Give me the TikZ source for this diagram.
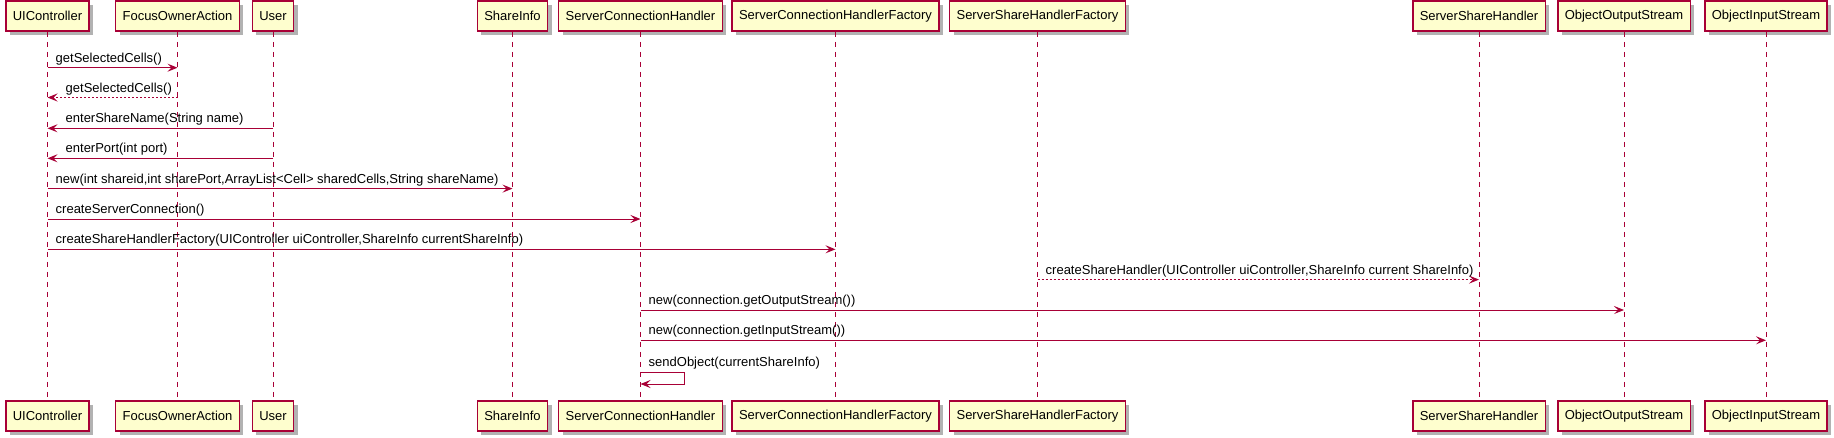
\documentclass[tikz,border=0pt]{standalone}
\usepackage{fontspec}
\setmainfont{Liberation Sans}
\usetikzlibrary{arrows.meta,shadows}
\definecolor{umlred}{HTML}{A80036}
\definecolor{umlfill}{HTML}{FEFECE}
\begin{document}
\begin{tikzpicture}[x=1pt,y=-1pt,
  part/.style={draw=umlred, line width=1.5pt, fill=umlfill, minimum height=30pt,
    inner xsep=7pt, inner ysep=0pt, font=\fontsize{13}{15}\selectfont,
    drop shadow={shadow xshift=4pt, shadow yshift=-4pt, fill=black, opacity=0.3}},
  lifeline/.style={draw=umlred, line width=1pt, dash pattern=on 5pt off 5pt},
  msg/.style={draw=umlred, line width=1pt, -{Stealth[length=10pt,width=8pt,inset=4pt]}},
  ret/.style={msg, dash pattern=on 2pt off 2pt},
  lbl/.style={anchor=base west, inner sep=0pt, font=\fontsize{13}{15}\selectfont}
]
\useasboundingbox (0,0) rectangle (1834,437);

% participants (top)
\node[part] (uic) at (47.5,16) {UIController};
\node[part] (foa) at (177.5,16) {FocusOwnerAction};
\node[part] (usr) at (273,16) {User};
\node[part] (shi) at (512.5,16) {ShareInfo};
\node[part] (sch) at (640.5,16) {ServerConnectionHandler};
\node[part] (schf) at (835.5,16) {ServerConnectionHandlerFactory};
\node[part] (sshf) at (1037.5,16) {ServerShareHandlerFactory};
\node[part] (ssh) at (1479,16) {ServerShareHandler};
\node[part] (oos) at (1624,16) {ObjectOutputStream};
\node[part] (ois) at (1766,16) {ObjectInputStream};

% participants (bottom)
\node[part] (uicB) at (47.5,416) {UIController};
\node[part] (foaB) at (177.5,416) {FocusOwnerAction};
\node[part] (usrB) at (273,416) {User};
\node[part] (shiB) at (512.5,416) {ShareInfo};
\node[part] (schB) at (640.5,416) {ServerConnectionHandler};
\node[part] (schfB) at (835.5,416) {ServerConnectionHandlerFactory};
\node[part] (sshfB) at (1037.5,416) {ServerShareHandlerFactory};
\node[part] (sshB) at (1479,416) {ServerShareHandler};
\node[part] (oosB) at (1624,416) {ObjectOutputStream};
\node[part] (oisB) at (1766,416) {ObjectInputStream};

% lifelines
\foreach \p in {uic,foa,usr,shi,sch,schf,sshf,ssh,oos,ois}
  \draw[lifeline] (\p.south) -- (\p B.north);

% messages
\draw[msg] (uic |- 0,67.7) -- (foa |- 0,67.7);
\node[lbl] at ([xshift=8pt]uic |- 0,62.2) {getSelectedCells()};

\draw[ret] (foa |- 0,97.5) -- (uic |- 0,97.5);
\node[lbl] at ([xshift=18pt]uic |- 0,92) {getSelectedCells()};

\draw[msg] (usr |- 0,128.3) -- (uic |- 0,128.3);
\node[lbl] at ([xshift=18pt]uic |- 0,122.8) {enterShareName(String name)};

\draw[msg] (usr |- 0,158.3) -- (uic |- 0,158.3);
\node[lbl] at ([xshift=18pt]uic |- 0,152.8) {enterPort(int port)};

\draw[msg] (uic |- 0,188.6) -- (shi |- 0,188.6);
\node[lbl] at ([xshift=8pt]uic |- 0,183.1) {new(int shareid,int sharePort,ArrayList<Cell> sharedCells,String shareName)};

\draw[msg] (uic |- 0,219) -- (sch |- 0,219);
\node[lbl] at ([xshift=8pt]uic |- 0,213.5) {createServerConnection()};

\draw[msg] (uic |- 0,249.3) -- (schf |- 0,249.3);
\node[lbl] at ([xshift=8pt]uic |- 0,243.8) {createShareHandlerFactory(UIController uiController,ShareInfo currentShareInfo)};

\draw[ret] (sshf |- 0,279.6) -- (ssh |- 0,279.6);
\node[lbl] at ([xshift=8pt]sshf |- 0,274.1) {createShareHandler(UIController uiController,ShareInfo current ShareInfo)};

\draw[msg] (sch |- 0,310) -- (oos |- 0,310);
\node[lbl] at ([xshift=8pt]sch |- 0,304.5) {new(connection.getOutputStream())};

\draw[msg] (sch |- 0,340.3) -- (ois |- 0,340.3);
\node[lbl] at ([xshift=8pt]sch |- 0,334.8) {new(connection.getInputStream())};

% self message
\coordinate (selfc) at ([xshift=44pt]sch |- 0,384);
\draw[msg] (sch |- 0,372) -| (selfc) -- (sch |- 0,384);
\node[lbl] at ([xshift=8pt]sch |- 0,366) {sendObject(currentShareInfo)};

\end{tikzpicture}
\end{document}
